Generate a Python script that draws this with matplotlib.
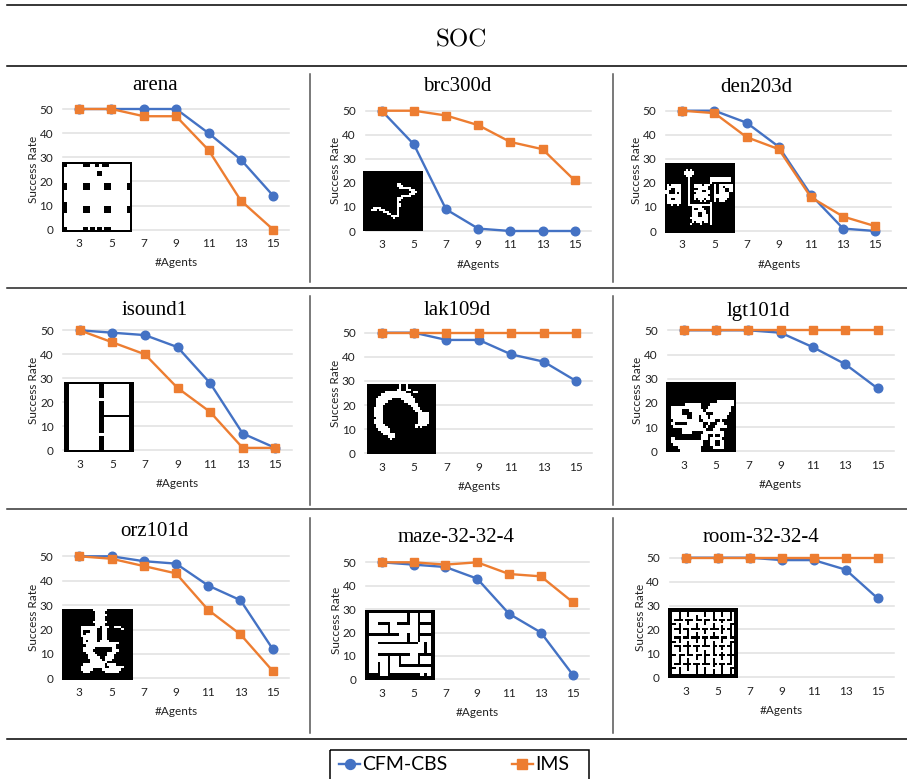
"""
Success rate panels for SOC, one small chart per map.
"""
import numpy as np
import matplotlib
matplotlib.use('Agg')
import matplotlib.pyplot as plt
from matplotlib.patches import Rectangle

W, H = 907, 779
BLUE = '#4472C4'
ORANGE = '#ED7D31'
TICK_FONT = 'Lato'
TITLE_FONT = 'Liberation Serif'

agents = [3, 5, 7, 9, 11, 13, 15]
yticks = [0, 10, 20, 30, 40, 50]

# success rates
arena_cfm = [50, 50, 50, 50, 40, 29, 14]
arena_ims = [50, 50, 47, 47, 33, 12, 0]
brc_cfm = [50, 36, 9, 1, 0, 0, 0]
brc_ims = [50, 50, 48, 44, 37, 34, 21]
den_cfm = [50, 50, 45, 35, 15, 1, 0]
den_ims = [50, 49, 39, 34, 14, 6, 2]
isound_cfm = [50, 49, 48, 43, 28, 7, 1]
isound_ims = [50, 45, 40, 26, 16, 1, 1]
lak_cfm = [50, 50, 47, 47, 41, 38, 30]
lak_ims = [50, 50, 50, 50, 50, 50, 50]
lgt_cfm = [50, 50, 50, 49, 43, 36, 26]
lgt_ims = [50, 50, 50, 50, 50, 50, 50]
orz_cfm = [50, 50, 48, 47, 38, 32, 12]
orz_ims = [50, 49, 46, 43, 28, 18, 3]
maze_cfm = [50, 49, 48, 43, 28, 20, 2]
maze_ims = [50, 50, 49, 50, 45, 44, 33]
room_cfm = [50, 50, 50, 49, 49, 45, 33]
room_ims = [50, 50, 50, 50, 50, 50, 50]

# map thumbnails, '#' is blocked and '.' is free
arena_map = [
    "##############################",
    "##.......###..##.###.........#",
    "#............................#",
    "#............................#",
    "#..............##............#",
    "#..............##............#",
    "#............................#",
    "#............................#",
    "#............................#",
    "##.......###......###.......##",
    "##.......###......###.......##",
    "##.......###......###.......##",
    "#............................#",
    "#............................#",
    "#............................#",
    "#............................#",
    "#............................#",
    "##...........................#",
    "##...........................#",
    "##.......###......###.......##",
    "##.......###......###.......##",
    "##.......###......###.......##",
    "#............................#",
    "#............................#",
    "#............................#",
    "#............................#",
    "#............................#",
    "#............................#",
    "##.......##.##.##.###........#",
    "##############################",
]
brc_map = [
    "", "", "", "", "", "",
    "#################..###########",
    "#################...##########",
    "##################......######",
    "#######################...####",
    "########################...###",
    "#######################...####",
    "###################.....######",
    "#################...##########",
    "#################..###########",
    "#################.############",
    "#################..###########",
    "#################..###########",
    "#####....########.############",
    "####...#...######.############",
    "##########...####.############",
    "############..###.############",
    "##############....############",
    "###############.##############",
    "", "", "", "", "", "",
]
den_map = [
    "##################################",
    "##################################",
    "##################################",
    "##########.#.#####################",
    "#########.....####################",
    "#########.....####################",
    "##########...#####################",
    "###########.##########..........##",
    "###########.##########..........##",
    "###########.##########.###########",
    "#.#.....###.##....#...##.#.......#",
    "#.......###.##.......###.#..#....#",
    "#..##...###.####.....###.#...##..#",
    "..###...###.##....##..##.#...##..#",
    "..###.#.###.###.......##.#.....###",
    "#.......###.##.......###.......###",
    "#.......###.##........##.......###",
    "#..##...###.##.#...#..##.#....####",
    "#.......###.#####.#.####.#...#####",
    "#.......###.##########.###########",
    "###.##.####............###########",
    "#############.....####.###########",
    "#############.##...###.###########",
    "#############.......##.###########",
    "#############...##..##.###########",
    "#############...##...#.###########",
    "############.........#.###########",
    "#############........#.###########",
    "#############.#...#..#.###########",
    "############.####.####.###########",
    "##################################",
    "##################################",
    "##################################",
    "##################################",
]
isound_map = [
    "##############################",
    "##.............##...........##",
    "##.............##...........##",
    "##.............##...........##",
    "##.............##...........##",
    "##.............##...........##",
    "##.............##...........##",
    "##..........................##",
    "##.............##...........##",
    "##.............##...........##",
    "##.............##...........##",
    "##.............##...........##",
    "##.............##...........##",
    "##.............##...........##",
    "##.............###############",
    "##.............##...........##",
    "##.............##...........##",
    "##.............##...........##",
    "##.............##...........##",
    "##.............##...........##",
    "##.............##...........##",
    "##.............##...........##",
    "##..........................##",
    "##.............##...........##",
    "##.............##...........##",
    "##.............##...........##",
    "##.............##...........##",
    "##.............##...........##",
    "##.............##...........##",
    "##############################",
]
lak_map = [
    "##############.##.############",
    "##############.##.############",
    "#############..##..###########",
    "########.........###..########",
    "######.............###########",
    "#####...............##########",
    "####.......####......#########",
    "####.....#######.....#########",
    "####....##########....########",
    "####...############...########",
    "###....#############...#######",
    "###....##############...######",
    "###....###############.....###",
    "###....###############.....###",
    "####...###############.....###",
    "###....###############.....###",
    "###....###############.....###",
    "####....#############.....####",
    "####.....############.#.######",
    "#####.....####################",
    "######....####################",
    "#######.....##################",
    "#########...##################",
    "##########.###################",
    "", "", "", "", "", "",
]
lgt_map = [
    "", "", "", "", "", "",
    "######################.......#",
    "########.......####..........#",
    "##.............###..........##",
    "##.....###......#...........##",
    "##.....####......###.......###",
    "##.......##...#...#.......####",
    "###...........##.....##.######",
    "##..#####.......##.###...#####",
    "###.............#.###.....####",
    "#######..........###...#######",
    "#######....#####.........#####",
    "###############...##.##..#####",
    "##..###########...#.....######",
    "##..............###..##..#####",
    "###.............###..##..#####",
    "#####..........#####.....#####",
    "######.........###########",
]
orz_map = [
    "#############......###########",
    "##############....############",
    "##############.....###########",
    "##############....############",
    "##############....############",
    "#############......###########",
    "##############....############",
    "########........#...##...#####",
    "########.......##..######.####",
    "########.###...##..###########",
    "########.#.....##..###########",
    "########.......##..###########",
    "#########......##..###########",
    "#########.#....#....##########",
    "#########...............######",
    "##########.............#######",
    "#########.....#######..#######",
    "#########....########...######",
    "##########....#####....#######",
    "###########....####...########",
    "###########.....##....########",
    "############.....#...#########",
    "############.......###########",
    "#########.........#....#######",
    "########..........##......####",
    "########.....####........#####",
    "#########...######......######",
    "##############################",
    "##############################",
    "##############################",
]
maze_map = [
    "################################",
    "################################",
    "##..................#....#.....##",
    "##..................#....#.....##",
    "##..................#....#.....##",
    "##..................#....#.....##",
    "##....######...######....######",
    "##.........#.............#.....##",
    "##.........#.............#.....##",
    "##.........#.............#.....##",
    "##.........#.............#.....##",
    "################....#....######",
    "##..................#....#.....##",
    "##..................#....#.....##",
    "##..................#....#.....##",
    "##....###################...#..##",
    "##..........................#..##",
    "##..........................#..##",
    "##..........................#..##",
    "##..........................#..##",
    "##....###############....######",
    "##.........#....#........#.....##",
    "##.........#....#........#.....##",
    "##.........#....#........#.....##",
    "##....#....#....#........#.....##",
    "##....#....#....###############",
    "##....#....#...................##",
    "##....#....#...................##",
    "##....#....#...................##",
    "#######....###############..#..##",
    "################################",
    "################################",
]
room_map = [
    "################################",
    "################################",
    "##...#...#.......#...#...#...#.##",
    "##...#...#...#...#...#...#...#.##",
    "##...#.......#.......#.......#.##",
    "##.####.####.###.###.##.###.##.##",
    "##.......#.......#.......#.....##",
    "####.#...#...#...#...#.......####",
    "##...#.......#.......#...#...#.##",
    "##.###.###.####.###.####.##.##.##",
    "##...#...#.......#.......#...#.##",
    "##...#...#...#...#...#...#...#.##",
    "##.......#...#.......#.......#.##",
    "##.###.###.####.###.####.###.####",
    "##...#.......#...#.......#.....##",
    "####.#...#...#...#...#...#...####",
    "##.......#.......#...#.......#.##",
    "##.###.####.###.####.##.###.##.##",
    "##...#...#...#.......#...#...#.##",
    "##...#...#...#...#...#.......#.##",
    "##.......#.......#...#...#...#.##",
    "####.###.###.###.###.##.###.####",
    "##...#.......#...#.......#...#.##",
    "##...#...#...#...#...#...#...#.##",
    "##...#...#.......#...#.......#.##",
    "##.###.####.###.####.##.###.##.##",
    "##.......#...#.......#...#.....##",
    "####.#...#...#...#.......#...####",
    "##...#...#...#...#...#...#...#.##",
    "##...#.......#...#...#...#...#.##",
    "################################",
    "################################",
]

# name, cfm, ims, map, (x of 3, x of 15, y of 50, y of 0), inset (l, r, t, b), title (x, y)
panels = [
    ('arena', arena_cfm, arena_ims, arena_map, (79, 273.3, 109, 229.7), (62.3, 132, 162.3, 232), (155, 85)),
    ('brc300d', brc_cfm, brc_ims, brc_map, (381.7, 574.7, 110.7, 231), (363, 423, 171, 231), (457.7, 86)),
    ('den203d', den_cfm, den_ims, den_map, (682.3, 875.3, 110.7, 231), (665, 734, 163.3, 232.7), (756.7, 87)),
    ('isound1', isound_cfm, isound_ims, isound_map, (79.7, 275.3, 330.3, 450.3), (63.7, 133, 382, 452), (155, 310)),
    ('lak109d', lak_cfm, lak_ims, lak_map, (381.6, 576, 332.7, 453.3), (367, 436, 384, 454), (457.7, 310)),
    ('lgt101d', lgt_cfm, lgt_ims, lgt_map, (683.8, 877.6, 330.3, 451.3), (666, 735.6, 382, 452), (758, 311)),
    ('orz101d', orz_cfm, orz_ims, orz_map, (79.3, 272.7, 556.3, 678.3), (62.3, 132.7, 609, 679.7), (154.7, 531)),
    ('maze-32-32-4', maze_cfm, maze_ims, maze_map, (381.7, 572.7, 562.3, 679.3), (365, 434.7, 610, 680), (456, 538)),
    ('room-32-32-4', room_cfm, room_ims, room_map, (685.7, 877.7, 557.7, 677.3), (668.3, 738, 608.3, 677.7), (760.7, 538)),
]


def px_axes(fig, left, right, top, bottom):
    return fig.add_axes([left / W, 1 - bottom / H, (right - left) / W, (bottom - top) / H])


fig = plt.figure(figsize=(W / 100, H / 100), dpi=100)

# table rules and headline live on one sheet in pixel coordinates
sheet = fig.add_axes([0, 0, 1, 1])
sheet.set_xlim(0, W)
sheet.set_ylim(H, 0)
sheet.axis('off')
for y, col in [(5, 'black'), (66, 'black'), (287.5, '#222222'), (509, '#333333'), (739, 'black')]:
    sheet.plot([7, W], [y, y], color=col, lw=1.1)
for x, col in [(310, '#555555'), (613, '#555555')]:
    for y0, y1 in [(74, 282), (296, 505), (518, 733)]:
        sheet.plot([x, x], [y0, y1], color=col, lw=1.1)
sheet.text(461, 40, 'SOC', family='cmr10', fontsize=18, ha='center', va='center')
sheet.add_patch(Rectangle((330, 750), 259, 40, fill=False, edgecolor='black', lw=1.1))

for name, cfm, ims, grid, (x3, x15, y50, y0), (il, ir, it, ib), (tx, ty) in panels:
    step = (x15 - x3) / 6
    ax = px_axes(fig, x3 - step / 2, x15 + step / 2, y50, y0)
    ax.patch.set_alpha(0)
    xs = np.arange(len(agents))
    line1, = ax.plot(xs, cfm, color=BLUE, marker='o', ms=6.2, lw=1.7, clip_on=False, zorder=4, label='CFM-CBS')
    line2, = ax.plot(xs, ims, color=ORANGE, marker='s', ms=6.2, lw=1.7, clip_on=False, zorder=5, label='IMS')
    ax.set_xlim(-0.5, 6.5)
    ax.set_ylim(0, 50)
    ax.set_xticks(xs)
    ax.set_xticklabels(agents, family=TICK_FONT, fontsize=8.5, color='#222222')
    ax.set_yticks(yticks)
    ax.set_yticklabels(yticks, family=TICK_FONT, fontsize=8.5, color='#222222')
    ax.tick_params(length=0, axis='y', pad=7)
    ax.tick_params(length=0, axis='x', pad=6)
    for s in ax.spines.values():
        s.set_visible(False)
    ax.grid(True, axis='y', color='#e0e0e0', lw=1.1, clip_on=False)
    ax.set_axisbelow(True)
    ax.set_xlabel('#Agents', family=TICK_FONT, fontsize=8.5, color='#222222', labelpad=6)
    ax.set_ylabel('Success Rate', family=TICK_FONT, fontsize=8.5, color='#222222', labelpad=0.5)
    sheet.text(tx, ty, name, family=TITLE_FONT, fontsize=15, ha='center', va='center')

    w = max(len(r) for r in grid)
    img = np.array([[c == '.' for c in r[:w].ljust(w, r[-1] if r else '#')] for r in grid], dtype=float)
    inset = px_axes(fig, il, ir, it, ib)
    inset.imshow(img, cmap='gray', vmin=0, vmax=1, aspect='auto', interpolation='nearest')
    inset.axis('off')

fig.legend([line1, line2], ['CFM-CBS', 'IMS'], loc='center left', bbox_to_anchor=(339 / W, 1 - 765 / H),
           ncol=2, frameon=False, borderpad=0, borderaxespad=0, handlelength=1.1, handletextpad=0.1,
           columnspacing=3.3, markerscale=1.15, prop={'family': TICK_FONT, 'size': 14})

plt.savefig('out.png', dpi=100)
